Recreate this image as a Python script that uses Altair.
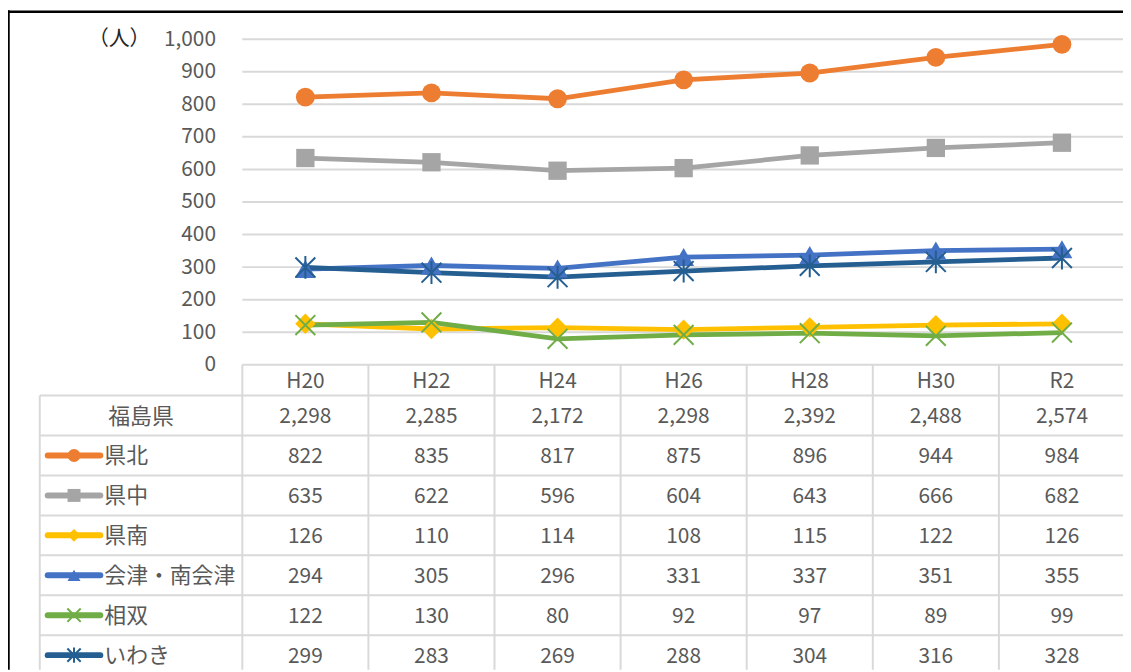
import altair as alt
import pandas as pd

years = ["H20", "H22", "H24", "H26", "H28", "H30", "R2"]
series = ["県北", "県中", "県南", "会津・南会津", "相双", "いわき"]
total_label = "福島県"
total = [2298, 2285, 2172, 2298, 2392, 2488, 2574]
v_kenpoku = [822, 835, 817, 875, 896, 944, 984]
v_kenchu = [635, 622, 596, 604, 643, 666, 682]
v_kennan = [126, 110, 114, 108, 115, 122, 126]
v_aizu = [294, 305, 296, 331, 337, 351, 355]
v_soso = [122, 130, 80, 92, 97, 89, 99]
v_iwaki = [299, 283, 269, 288, 304, 316, 328]
values = [v_kenpoku, v_kenchu, v_kennan, v_aizu, v_soso, v_iwaki]
colors = ["#ED7D31", "#A5A5A5", "#FFC000", "#4472C4", "#70AD47", "#255E91"]
shapes = ["circle", "square", "diamond", "triangle-up",
          "M-1,-1L1,1M-1,1L1,-1", "M-1,-1L1,1M-1,1L1,-1M0,-1.15L0,1.15"]
filled = [True, True, True, True, False, False]
y_ticks = [0, 100, 200, 300, 400, 500, 600, 700, 800, 900, 1000]
unit_label = "（人）"

FONT = "Noto Sans CJK JP"
GRID = "#D9D9D9"
TXT = "#595959"
W, H = 1123, 664

rows = [total_label] + series

long_df = pd.DataFrame(
    [{"series": s, "year": y, "value": v} for s, vals in zip(series, values) for y, v in zip(years, vals)]
)
table_df = pd.DataFrame(
    [{"row": r, "year": y, "text": f"{v:,}"}
     for r, vals in zip(rows, [total] + values) for y, v in zip(years, vals)]
)
ticks_df = pd.DataFrame({"v": y_ticks})
years_df = pd.DataFrame({"year": years})
rows_df = pd.DataFrame({"row": rows})
one = pd.DataFrame({"a": [0]})

xs = alt.Scale(domain=years, range=[236, 1125], paddingInner=0, paddingOuter=0)
yq = alt.Scale(domain=[0, 1000], range=[357, 29], nice=False, zero=False)
yr = alt.Scale(domain=rows, range=[388, 669.5], paddingInner=0, paddingOuter=0)

yaxis = alt.Axis(values=y_ticks, format=",.0f", offset=-209, ticks=False, tickSize=0, domain=False,
                 grid=False, labelPadding=0, labelFont=FONT, labelFontSize=21, labelColor=TXT, title=None)

layers = []

# grid lines of line chart (with y axis labels)
layers.append(alt.Chart(ticks_df).mark_rule(color=GRID, strokeWidth=2).encode(
    y=alt.Y("v:Q", scale=yq, axis=yaxis), x=alt.value(236), x2=alt.value(W)))

# table horizontal lines
layers.append(alt.Chart(rows_df).mark_rule(color=GRID, strokeWidth=2).encode(
    y=alt.Y("row:N", scale=yr, bandPosition=0, axis=None), x=alt.value(32), x2=alt.value(W)))

# table vertical lines
layers.append(alt.Chart(years_df).mark_rule(color=GRID, strokeWidth=2).encode(
    x=alt.X("year:N", scale=xs, bandPosition=0, axis=None), y=alt.value(357), y2=alt.value(H)))
layers.append(alt.Chart(one).mark_rule(color=GRID, strokeWidth=2).encode(
    x=alt.value(32), y=alt.value(388), y2=alt.value(H)))

# outer frame (top & left)
layers.append(alt.Chart(one).mark_rule(color="#000000", strokeWidth=2.5).encode(
    x=alt.value(0), x2=alt.value(W), y=alt.value(1.5)))
layers.append(alt.Chart(one).mark_rule(color="#000000", strokeWidth=2.5).encode(
    x=alt.value(0.5), y=alt.value(0), y2=alt.value(H)))

# lines and markers
for s, c, sh, f in zip(series, colors, shapes, filled):
    d = long_df[long_df["series"] == s]
    layers.append(alt.Chart(d).mark_line(color=c, strokeWidth=4.8).encode(
        x=alt.X("year:N", scale=xs, bandPosition=0.5, axis=None),
        y=alt.Y("value:Q", scale=yq, axis=None)))
for s, c, sh, f in zip(series, colors, shapes, filled):
    d = long_df[long_df["series"] == s]
    if f:
        size = {"circle": 360, "square": 340, "diamond": 420, "triangle-up": 440}[sh]
        pm = alt.Chart(d).mark_point(shape=sh, filled=True, fill=c, opacity=1, size=size, strokeWidth=0)
    else:
        pm = alt.Chart(d).mark_point(shape=sh, filled=False, stroke=c, opacity=1, size=400, strokeWidth=2)
    layers.append(pm.encode(
        x=alt.X("year:N", scale=xs, bandPosition=0.5, axis=None),
        y=alt.Y("value:Q", scale=yq, axis=None)))

# header labels
layers.append(alt.Chart(years_df).mark_text(font=FONT, fontSize=21, color=TXT, baseline="middle", dy=1.5).encode(
    x=alt.X("year:N", scale=xs, bandPosition=0.5, axis=None), y=alt.value(373), text="year:N"))

# table values
layers.append(alt.Chart(table_df).mark_text(font=FONT, fontSize=21, color=TXT, baseline="middle", dy=1.5).encode(
    x=alt.X("year:N", scale=xs, bandPosition=0.5, axis=None),
    y=alt.Y("row:N", scale=yr, bandPosition=0.5, axis=None), text="text:N"))

# row labels
layers.append(alt.Chart(pd.DataFrame({"row": [total_label]})).mark_text(
    font=FONT, fontSize=22, color=TXT, baseline="middle", align="center", dy=1).encode(
    x=alt.value(134), y=alt.Y("row:N", scale=yr, bandPosition=0.5, axis=None), text="row:N"))
layers.append(alt.Chart(pd.DataFrame({"row": series})).mark_text(
    font=FONT, fontSize=22, color=TXT, baseline="middle", align="left", dy=1).encode(
    x=alt.value(97), y=alt.Y("row:N", scale=yr, bandPosition=0.5, axis=None), text="row:N"))

# legend keys in the table
for s, c, sh, f in zip(series, colors, shapes, filled):
    d = pd.DataFrame({"row": [s]})
    layers.append(alt.Chart(d).mark_rule(color=c, strokeWidth=6, strokeCap="round").encode(
        x=alt.value(40), x2=alt.value(93), y=alt.Y("row:N", scale=yr, bandPosition=0.5, axis=None)))
    if f:
        pm = alt.Chart(d).mark_point(shape=sh, filled=True, fill=c, opacity=1, size=170, strokeWidth=0)
    else:
        pm = alt.Chart(d).mark_point(shape=sh, filled=False, stroke=c, opacity=1, size=180, strokeWidth=2)
    layers.append(pm.encode(x=alt.value(66.5), y=alt.Y("row:N", scale=yr, bandPosition=0.5, axis=None)))

# unit label
layers.append(alt.Chart(one).mark_text(font=FONT, fontSize=21, color="#262626", baseline="middle",
                                       align="center").encode(
    x=alt.value(112), y=alt.value(29), text=alt.value(unit_label)))

chart = alt.layer(*layers).resolve_scale(y="independent").properties(
    width=W, height=H, padding=0, autosize=alt.AutoSizeParams(type="none"), background="white"
).configure_view(stroke=None)

chart.save("out.html", embed_options={"renderer": "svg", "actions": False})
